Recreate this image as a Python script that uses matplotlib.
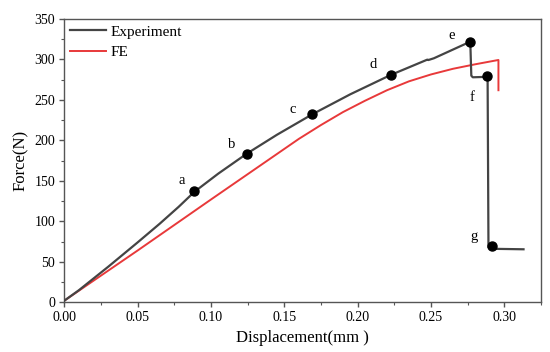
import matplotlib
matplotlib.use("Agg")
import matplotlib.pyplot as plt
from matplotlib.ticker import MultipleLocator

# Experiment curve (displacement mm, force N)
exp_x = [0.0, 0.01, 0.03, 0.05, 0.065, 0.078, 0.0887, 0.105, 0.1244, 0.145,
         0.1692, 0.195, 0.2227, 0.235, 0.2475, 0.2482, 0.252, 0.2768, 0.2775,
         0.2785, 0.2875, 0.2886, 0.2892, 0.2915, 0.295, 0.3131]
exp_y = [2, 15, 44, 74, 97, 118, 136.5, 159, 183.6, 207,
         232.4, 257, 281, 290.3, 299.8, 299.3, 301.5, 322, 280,
         278, 278.5, 280, 68, 66.5, 66, 65.5]

# FE curve
fe_x = [0.0, 0.05, 0.10, 0.14, 0.16, 0.175, 0.19, 0.205, 0.22, 0.235,
        0.25, 0.265, 0.28, 0.296, 0.296]
fe_y = [2, 64, 127, 177, 202, 219, 235, 249, 262, 273,
        281.5, 288.5, 294, 299.4, 262]

# Marked points
pt_labels = ["a", "b", "c", "d", "e", "f", "g"]
pt_x = [0.0887, 0.1244, 0.1692, 0.2227, 0.2768, 0.2884, 0.2915]
pt_y = [137, 183.6, 232.4, 281, 322, 280, 69]
lab_x = [0.080, 0.1142, 0.156, 0.2108, 0.2638, 0.2782, 0.2795]
lab_y = [151, 195, 238, 294, 330, 253, 81]

plt.rcParams['font.family'] = ['Liberation Serif', 'DejaVu Serif']

fig = plt.figure(figsize=(5.5, 3.52), dpi=100)
ax = fig.add_axes([0.1169, 0.1412, 0.9836 - 0.1169, 0.946 - 0.1412])

ax.plot(exp_x, exp_y, color='#444444', lw=1.6, label='Experiment', zorder=3)
ax.plot(fe_x, fe_y, color='#e8393a', lw=1.4, label='FE', zorder=2)
ax.plot(pt_x, pt_y, 'o', color='black', ms=6.5, zorder=4)
for l, x, y in zip(pt_labels, lab_x, lab_y):
    ax.text(x, y, l, ha='center', va='center', fontsize=10.5)

ax.set_xlim(0, 0.325)
ax.set_ylim(0, 350)
ax.xaxis.set_major_locator(MultipleLocator(0.05))
ax.xaxis.set_minor_locator(MultipleLocator(0.025))
ax.yaxis.set_major_locator(MultipleLocator(50))
ax.yaxis.set_minor_locator(MultipleLocator(25))
ax.xaxis.set_major_formatter(matplotlib.ticker.FormatStrFormatter('%.2f'))

for s in ax.spines.values():
    s.set_color('#555555')
    s.set_linewidth(1.0)
ax.tick_params(which='both', direction='out', top=False, right=False,
               color='#555555', labelsize=10, pad=3)
ax.tick_params(which='major', length=3.5, width=1.0)
ax.tick_params(which='minor', length=2, width=0.8)

ax.set_xlabel('Displacement(mm )', fontsize=12, labelpad=4)
ax.set_ylabel('Force(N)', fontsize=12, labelpad=4)

ax.legend(loc='upper left', frameon=False, fontsize=11, handlelength=2.3,
          handletextpad=0.3, borderaxespad=0.0, borderpad=0.4,
          labelspacing=0.45)

fig.savefig('out.png', dpi=100)
